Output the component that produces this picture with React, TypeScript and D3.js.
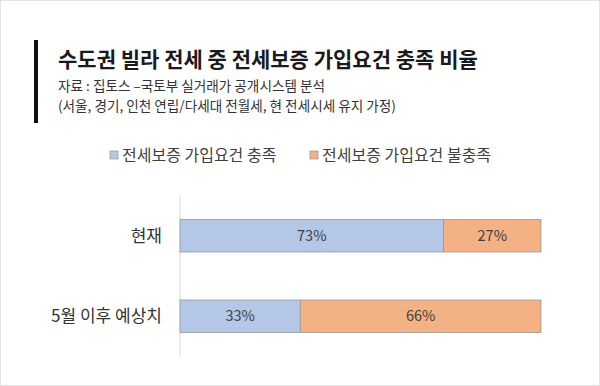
import { useRef, useEffect } from 'react';
import * as d3 from 'd3';

const WIDTH = 600;
const HEIGHT = 386;
const FONT = '"Noto Sans CJK KR", "Noto Sans", sans-serif';

const title = '수도권 빌라 전세 중 전세보증 가입요건 충족 비율';
const subtitleLines = [
	'자료 : 집토스 –국토부 실거래가 공개시스템 분석',
	'(서울, 경기, 인천 연립/다세대 전월세, 현 전세시세 유지 가정)',
];

const categories = ['현재', '5월 이후 예상치'];
const seriesNames = ['전세보증 가입요건 충족', '전세보증 가입요건 불충족'];
const metValues = [73, 33];
const unmetValues = [27, 66];
const seriesColors = ['#b4c7e7', '#f4b183'];

const PLOT = { left: 180, right: 541, top: 195, bottom: 357 };

const App = () => {
	const ref = useRef<SVGSVGElement>(null);

	useEffect(() => {
		const svg = d3.select(ref.current);
		svg.selectAll('*').remove();

		svg.append('rect')
			.attr('x', 0.5).attr('y', 0.5)
			.attr('width', WIDTH - 1).attr('height', HEIGHT - 1)
			.attr('fill', '#fff')
			.attr('stroke', '#e3e3e3');

		// title block
		svg.append('rect')
			.attr('x', 34).attr('y', 40)
			.attr('width', 4).attr('height', 83)
			.attr('fill', '#111');

		svg.append('text')
			.attr('x', 58).attr('y', 67)
			.attr('font-family', FONT)
			.attr('font-size', 21)
			.attr('font-weight', 700)
			.attr('fill', '#1a1a1a')
			.text(title);

		subtitleLines.forEach((line, i) => {
			svg.append('text')
				.attr('x', 58).attr('y', 91 + i * 20)
				.attr('font-family', FONT)
				.attr('font-size', 13.6)
				.attr('fill', '#333')
				.text(line);
		});

		// legend
		const legendX = [110, 310];
		seriesNames.forEach((name, i) => {
			svg.append('rect')
				.attr('x', legendX[i]).attr('y', 151)
				.attr('width', 8).attr('height', 8)
				.attr('fill', seriesColors[i])
				.attr('stroke', '#8a8a8a')
				.attr('stroke-width', 0.6);
			svg.append('text')
				.attr('x', legendX[i] + 12).attr('y', 161)
				.attr('font-family', FONT)
				.attr('font-size', 16)
				.attr('fill', '#404040')
				.text(name);
		});

		const table = categories.map((c, i) => ({ category: c, met: metValues[i], unmet: unmetValues[i] }));
		const stack = d3.stack<any>()
			.keys(['met', 'unmet'])
			.offset(d3.stackOffsetExpand);
		const series = stack(table);

		const xScale = d3.scaleLinear().domain([0, 1]).range([PLOT.left, PLOT.right]);
		const yScale = d3.scaleBand()
			.domain(categories)
			.range([PLOT.top, PLOT.bottom])
			.paddingInner(0.596)
			.paddingOuter(0.304);

		// axis line
		svg.append('line')
			.attr('x1', PLOT.left).attr('x2', PLOT.left)
			.attr('y1', PLOT.top).attr('y2', PLOT.bottom)
			.attr('stroke', '#d9d9d9');

		series.forEach((s, si) => {
			const g = svg.append('g');
			s.forEach((d: any) => {
				const y = yScale(d.data.category)!;
				g.append('rect')
					.attr('x', xScale(d[0]))
					.attr('y', y)
					.attr('width', xScale(d[1]) - xScale(d[0]))
					.attr('height', yScale.bandwidth())
					.attr('fill', seriesColors[si])
					.attr('stroke', '#9a9a9a')
					.attr('stroke-width', 0.8);
				g.append('text')
					.attr('x', (xScale(d[0]) + xScale(d[1])) / 2)
					.attr('y', y + yScale.bandwidth() / 2)
					.attr('dy', '0.36em')
					.attr('text-anchor', 'middle')
					.attr('font-family', FONT)
					.attr('font-size', 14.5)
					.attr('fill', '#404040')
					.text(`${d.data[s.key]}%`);
			});
		});

		// category labels
		categories.forEach(c => {
			svg.append('text')
				.attr('x', 162)
				.attr('y', yScale(c)! + yScale.bandwidth() / 2)
				.attr('dy', '0.36em')
				.attr('text-anchor', 'end')
				.attr('font-family', FONT)
				.attr('font-size', 17)
				.attr('fill', '#333')
				.text(c);
		});
	});

	return (
		<svg
			ref={ref}
			width={WIDTH}
			height={HEIGHT}
			style={{ position: 'absolute', left: 0, top: 0, display: 'block' }}
		/>
	);
};

export default App;
